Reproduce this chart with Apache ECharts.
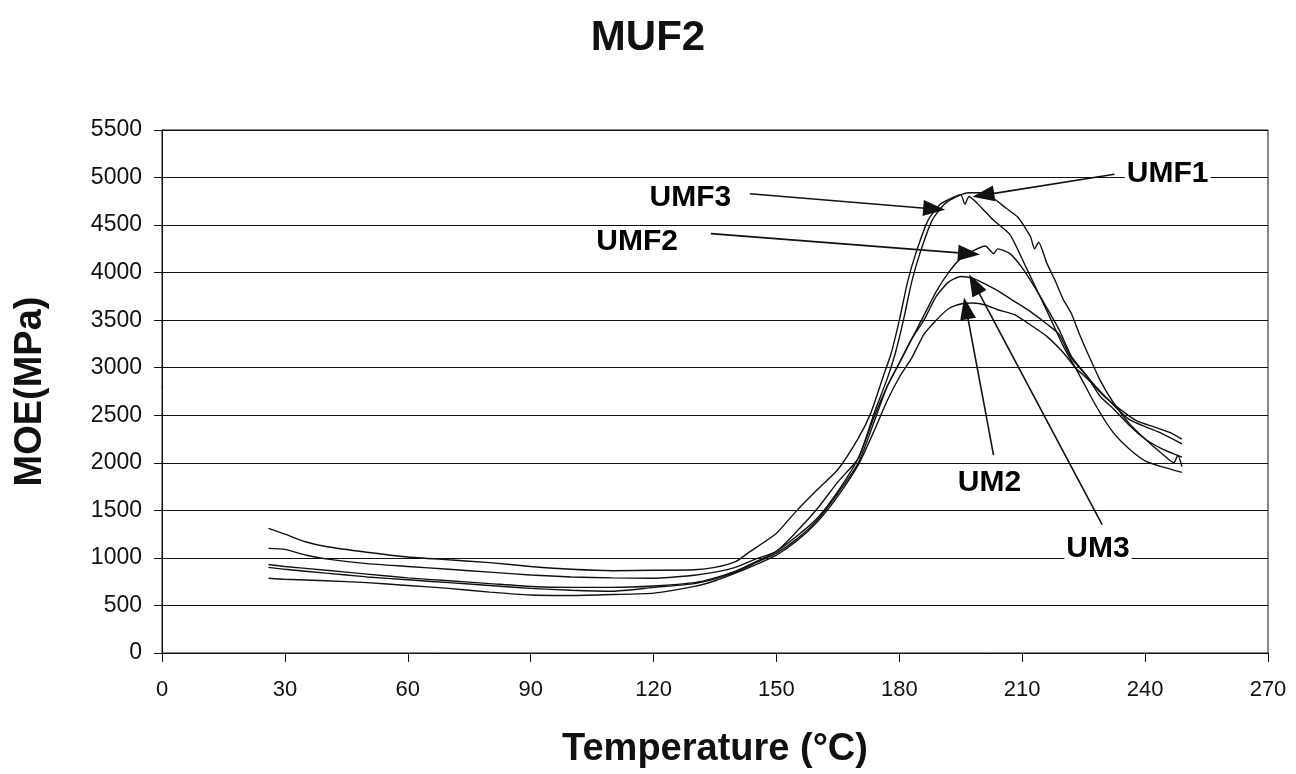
<!DOCTYPE html>
<html>
<head>
<meta charset="utf-8">
<script src="https://cdn.jsdelivr.net/npm/echarts@6/dist/echarts.min.js"></script>
<style>
  html, body { margin: 0; padding: 0; background: #fff; }
  #chart { width: 1296px; height: 774px; }
</style>
</head>
<body>
<div id="chart"></div>
<script>
// temperature (°C) / MOE (MPa) pairs
const umf3 = [
  [26, 1310], [30, 1250], [35, 1170], [40, 1120], [50, 1060], [60, 1010], [70, 980],
  [80, 950], [90, 910], [100, 880], [110, 865], [120, 870], [130, 875], [135, 900],
  [140, 960], [143, 1050], [150, 1260], [155, 1500], [160, 1720], [165, 1930],
  [170, 2260], [173, 2520], [176, 2900], [178, 3150], [180, 3500], [182, 3900],
  [184, 4200], [187, 4550], [190, 4720], [193, 4790], [195, 4820], [196, 4720],
  [197, 4800], [199, 4730], [203, 4550], [207, 4400], [211, 4050], [216, 3600],
  [220, 3230], [224, 2920], [228, 2600], [232, 2330], [236, 2150], [240, 2020],
  [244, 1960], [249, 1900]
]
const umf1 = [
  [26, 1100], [30, 1090], [35, 1030], [40, 990], [50, 940], [60, 910], [70, 880],
  [80, 850], [90, 820], [100, 800], [110, 790], [120, 786], [130, 818], [135, 850],
  [140, 900], [145, 990], [150, 1070], [155, 1280], [160, 1520], [165, 1800],
  [170, 2050], [174, 2540], [177, 2880], [179, 3150], [181, 3500], [183, 3900],
  [185, 4200], [188, 4550], [191, 4720], [194, 4800], [197, 4840], [200, 4840],
  [203, 4780], [206, 4680], [209, 4580], [212, 4380], [213, 4250], [214, 4320],
  [216, 4100], [218, 3920], [220, 3720], [222, 3570], [224, 3350], [226, 3150],
  [229, 2870], [232, 2650], [236, 2420], [240, 2250], [244, 2100], [247, 2000],
  [248, 2080], [249, 1960]
]
const umf2 = [
  [26, 930], [30, 910], [40, 870], [50, 830], [60, 790], [70, 760], [80, 730],
  [90, 700], [100, 690], [110, 690], [120, 705], [130, 740], [135, 790], [140, 860],
  [145, 960], [150, 1070], [155, 1230], [160, 1420], [165, 1700], [170, 2050],
  [174, 2500], [177, 2800], [180, 3050], [183, 3300], [186, 3550], [189, 3800],
  [192, 4000], [195, 4150], [198, 4230], [201, 4280], [203, 4200], [204, 4250],
  [207, 4200], [210, 4050], [213, 3850], [216, 3630], [219, 3400], [222, 3120],
  [226, 2900], [229, 2700], [232, 2580], [236, 2400], [240, 2250], [244, 2150],
  [249, 2060]
]
const um3 = [
  [26, 900], [30, 880], [40, 840], [50, 800], [60, 770], [70, 740], [80, 710],
  [90, 680], [100, 660], [110, 650], [120, 690], [130, 730], [135, 780], [140, 850],
  [145, 950], [150, 1050], [155, 1200], [160, 1400], [165, 1680], [170, 2000],
  [174, 2450], [177, 2800], [180, 3050], [183, 3300], [186, 3500], [189, 3750],
  [192, 3900], [195, 3960], [198, 3940], [201, 3880], [204, 3810], [208, 3700],
  [212, 3590], [216, 3460], [219, 3350], [222, 3100], [225, 2950], [228, 2800],
  [232, 2620], [236, 2460], [240, 2380], [244, 2310], [249, 2200]
]
const um2 = [
  [26, 786], [30, 775], [40, 760], [50, 740], [60, 710], [70, 680], [80, 640],
  [90, 610], [100, 605], [110, 615], [120, 630], [130, 700], [135, 760], [140, 840],
  [145, 930], [150, 1030], [155, 1180], [160, 1380], [165, 1650], [170, 1980],
  [174, 2350], [177, 2650], [180, 2900], [183, 3100], [186, 3350], [189, 3500],
  [192, 3620], [195, 3670], [198, 3680], [201, 3660], [204, 3610], [208, 3560],
  [212, 3450], [216, 3330], [220, 3160], [223, 3000], [226, 2880], [230, 2700],
  [234, 2560], [238, 2440], [242, 2380], [246, 2320], [249, 2250]
]

const seriesNames = ['UMF1', 'UMF2', 'UMF3', 'UM2', 'UM3']
const seriesData = [umf1, umf2, umf3, um2, um3]

// callout labels: text position and arrow [from, to] in data units
const labelText = ['UMF1', 'UMF3', 'UMF2', 'UM2', 'UM3']
const labelPos = [[245.5, 5040], [129, 4790], [116, 4330], [202, 1790], [228.5, 1100]]
const arrowFrom = [[232.5, 5035], [143.5, 4830], [134, 4410], [203, 2080], [229.5, 1350]]
const arrowTo = [[200.5, 4815], [188.5, 4670], [197, 4200], [196.3, 3625], [198.3, 3880]]

const xTicks = { min: 0, max: 270, step: 30 }
const yTicks = { min: 0, max: 5500, step: 500 }

const chart = echarts.init(document.getElementById('chart'))

const lineSeries = seriesData.map((d, i) => ({
  name: seriesNames[i],
  type: 'line',
  data: d,
  showSymbol: false,
  symbol: 'none',
  smooth: 0.2,
  lineStyle: { color: '#111', width: 1.4 },
  z: 3,
}))

const option = {
  animation: false,
  backgroundColor: '#fff',
  textStyle: { fontFamily: 'Liberation Sans' },
  title: {
    text: 'MUF2',
    left: 'center',
    top: 12,
    textStyle: { fontFamily: 'Liberation Sans', fontWeight: 'bold', fontSize: 42, color: '#111' },
  },
  grid: {
    left: 162,
    right: 28,
    top: 130,
    bottom: 120,
    show: true,
    borderColor: '#111',
    borderWidth: 1,
  },
  xAxis: {
    type: 'value',
    min: xTicks.min,
    max: xTicks.max,
    interval: xTicks.step,
    name: 'Temperature (°C)',
    nameLocation: 'middle',
    nameGap: 78,
    nameTextStyle: { fontFamily: 'Liberation Sans', fontWeight: 'bold', fontSize: 38, color: '#111' },
    axisLine: { lineStyle: { color: '#111', width: 1 } },
    axisTick: { show: true, length: 9, lineStyle: { color: '#111' } },
    axisLabel: { fontSize: 22, color: '#111', margin: 26 },
    splitLine: { show: false },
  },
  yAxis: {
    type: 'value',
    min: yTicks.min,
    max: yTicks.max,
    interval: yTicks.step,
    name: 'MOE(MPa)',
    nameLocation: 'middle',
    nameGap: 112,
    nameTextStyle: { fontFamily: 'Liberation Sans', fontWeight: 'bold', fontSize: 38, color: '#111' },
    axisLine: { show: true, lineStyle: { color: '#111', width: 1 } },
    axisTick: { show: true, length: 8, lineStyle: { color: '#111' } },
    axisLabel: { fontSize: 23, color: '#111', margin: 20, formatter: v => String(v) },
    splitLine: { show: true, lineStyle: { color: '#111', width: 1.2 } },
  },
  series: [
    ...lineSeries,
    {
      name: 'arrows',
      type: 'line',
      data: [],
      markLine: {
        silent: true,
        symbol: ['none', 'triangle'],
        symbolSize: [16, 22],
        label: { show: false },
        lineStyle: { color: '#111', width: 1.6, type: 'solid' },
        data: arrowFrom.map((p, i) => [{ coord: p }, { coord: arrowTo[i] }]),
      },
      z: 4,
    },
    {
      name: 'labels',
      type: 'scatter',
      data: labelPos.map((p, i) => ({ value: p, name: labelText[i] })),
      symbolSize: 1,
      itemStyle: { opacity: 0 },
      label: {
        show: true,
        position: 'inside',
        formatter: '{b}',
        fontFamily: 'Liberation Sans',
        fontWeight: 'bold',
        fontSize: 30,
        color: '#000',
        opacity: 1,
        textBorderWidth: 0,
        backgroundColor: '#fff',
        padding: [0, 2],
      },
      z: 5,
    },
  ],
}

option && chart.setOption(option)
</script>
</body>
</html>
